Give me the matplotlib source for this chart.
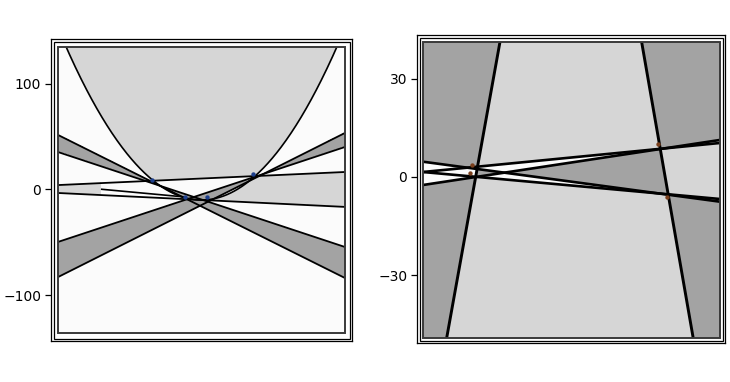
import numpy as np
import matplotlib.pyplot as plt
from matplotlib.patches import Rectangle
from matplotlib.colors import ListedColormap

# left panel: straight lines y = m*x + b and the parabola y = a*x^2 + c
left_m = [-6.78, -4.50, 6.83, 4.50, 0.62, -0.66]
left_b = [-16.1, -9.5, -14.7, -4.7, 10.4, -9.9]
parab_a, parab_c = 1.63, -10.0
band_white_x = [-7.0, 0.0]      # stretch of the flat band that is left white
left_seg_x = [-6.95, -1.15]     # short line inside that stretch
left_seg_y = [0.2, -7.1]
left_dots_x = [-3.45, 3.59, -1.15, 0.38]
left_dots_y = [9.0, 14.7, -7.1, -7.1]
left_yticks = [-100, 0, 100]

# right panel: steep lines x = p*y + q, flat lines y = m*x + b
steep_p = [0.0398, -0.0385]
steep_q = [-6.45, 6.31]
right_m = [-0.609, 0.686, 0.442, -0.411]
right_b = [-1.43, 4.42, 5.94, -2.59]
right_dots_x = [-6.72, -6.83, 5.83, 6.41]
right_dots_y = [3.66, 1.13, 10.05, -6.0]
right_yticks = [-30, 0, 30]

WHITE, LIGHT, DARK = 0, 1, 2
cmap = ListedColormap(['#fbfbfb', '#d6d6d6', '#a3a3a3'])


def between(Y, a, b):
    return (Y - a) * (Y - b) < 0


def frame(ax, box, w_px, h_px):
    x0, x1, y0, y1 = box
    border = Rectangle((x0, y0), x1 - x0, y1 - y0, fill=False,
                       ec='#3a3a3a', lw=1.4, zorder=5)
    ax.add_patch(border)
    for s in ax.spines.values():
        s.set_linewidth(0.9)
        s.set_color('black')
    dx, dy = 2.5 / w_px, 2.5 / h_px
    ax.add_patch(Rectangle((dx, dy), 1 - 2 * dx, 1 - 2 * dy, fill=False,
                           ec='black', lw=0.9, transform=ax.transAxes,
                           clip_on=False, zorder=6))
    ax.set_xticks([])
    ax.tick_params(axis='y', direction='out', length=4, width=0.9,
                   labelsize=10, pad=3)
    return border


fig = plt.figure(figsize=(7.3, 3.82), dpi=100)

# ---------------- left panel ----------------
ax1 = fig.add_axes([51 / 730, 1 - 341 / 382, 301 / 730, 302 / 382])
box1 = (-10, 10, -136.0, 135.1)
ax1.set_xlim(-10.49, 10.49)
ax1.set_ylim(-143.6, 142.65)

X, Y = np.meshgrid(np.linspace(box1[0], box1[1], 900),
                   np.linspace(box1[2], box1[3], 900))
ln = [m * X + b for m, b in zip(left_m, left_b)]
inside = Y > parab_a * X ** 2 + parab_c
band = between(Y, ln[4], ln[5])
c1 = np.where(inside ^ band, LIGHT, WHITE)
zone = (X > band_white_x[0]) & (X < band_white_x[1])
c1[band & ~inside & zone] = WHITE
c1[between(Y, ln[0], ln[1]) | between(Y, ln[2], ln[3])] = DARK
ax1.imshow(c1, origin='lower', extent=box1, cmap=cmap, vmin=0, vmax=2,
           aspect='auto', interpolation='nearest')

border1 = frame(ax1, box1, 301, 302)
xs = np.array([box1[0], box1[1]])
for m, b in zip(left_m, left_b):
    l, = ax1.plot(xs, m * xs + b, color='black', lw=1.3, zorder=3)
    l.set_clip_path(border1)
xp = np.linspace(box1[0], box1[1], 400)
l, = ax1.plot(xp, parab_a * xp ** 2 + parab_c, color='black', lw=1.2, zorder=3)
l.set_clip_path(border1)
ax1.plot(left_seg_x, left_seg_y, color='black', lw=1.2, zorder=3)
ax1.scatter(left_dots_x, left_dots_y, s=10, color='#1d3f8c', zorder=4,
            linewidths=0)
ax1.set_yticks(left_yticks)

# ---------------- right panel ----------------
ax2 = fig.add_axes([417 / 730, 1 - 343 / 382, 308 / 730, 308 / 382])
box2 = (-10, 10, -49.0, 41.1)
ax2.set_xlim(-10.40, 10.34)
ax2.set_ylim(-50.56, 43.25)

X, Y = np.meshgrid(np.linspace(box2[0], box2[1], 900),
                   np.linspace(box2[2], box2[3], 900))
s1 = steep_p[0] * Y + steep_q[0]
s2 = steep_p[1] * Y + steep_q[1]
lside = X < s1
rside = X > s2
mid = ~lside & ~rside
h = [m * X + b for m, b in zip(right_m, right_b)]
B = between(Y, h[0], h[1])
G = between(Y, h[1], h[2]) | between(Y, h[0], h[3])
c2 = np.where(mid, LIGHT, DARK)
c2[B & lside] = WHITE
c2[B & mid] = DARK
c2[B & rside] = LIGHT
c2[G & lside] = WHITE
c2[G & mid & ~B] = WHITE
ax2.imshow(c2, origin='lower', extent=box2, cmap=cmap, vmin=0, vmax=2,
           aspect='auto', interpolation='nearest')

border2 = frame(ax2, box2, 308, 308)
ys = np.array([box2[2], box2[3]])
for p, q in zip(steep_p, steep_q):
    l, = ax2.plot(p * ys + q, ys, color='black', lw=2.1, zorder=3)
    l.set_clip_path(border2)
xs = np.array([box2[0], box2[1]])
for m, b in zip(right_m, right_b):
    l, = ax2.plot(xs, m * xs + b, color='black', lw=1.9, zorder=3)
    l.set_clip_path(border2)
ax2.scatter(right_dots_x, right_dots_y, s=10, color='#7a3f1c', zorder=4,
            linewidths=0)
ax2.set_yticks(right_yticks)

fig.savefig('out.png', dpi=100)
